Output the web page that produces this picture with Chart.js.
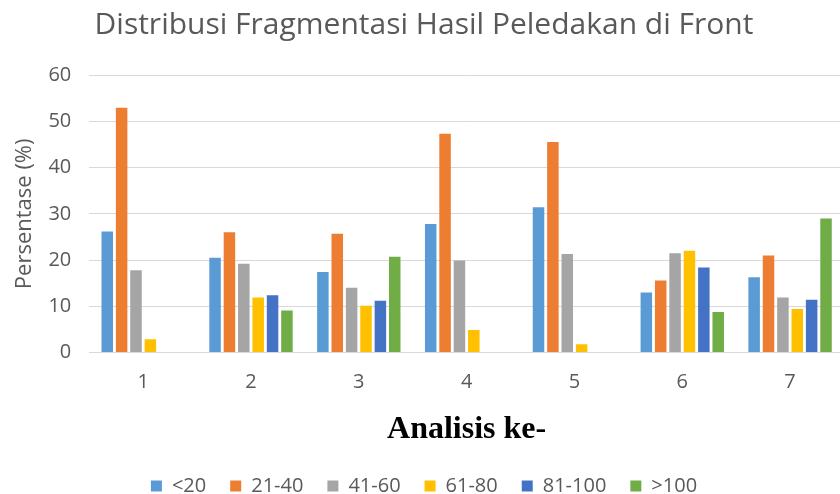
<!DOCTYPE html>
<html lang="id">
  <head>
    <meta charset="UTF-8" />
    <title>Distribusi Fragmentasi Hasil Peledakan di Front</title>
    <script src="https://cdn.jsdelivr.net/npm/chart.js@4.4.0/dist/chart.umd.min.js"></script>
    <style>
      html,
      body {
        margin: 0;
        padding: 0;
        background: #fff;
        overflow: hidden;
      }
      .container {
        width: 844px;
        height: 494px;
      }
    </style>
  </head>
  <body>
    <div class="container">
      <canvas id="fragChart" width="844" height="494"></canvas>
    </div>

    <script>
      // data
      const analisis = ['1', '2', '3', '4', '5', '6', '7'];
      const kurang20 = [26.2, 20.5, 17.4, 27.8, 31.4, 13.0, 16.3];
      const r21_40 = [52.9, 26.0, 25.7, 47.3, 45.5, 15.6, 21.0];
      const r41_60 = [17.8, 19.2, 14.0, 19.9, 21.3, 21.5, 11.9];
      const r61_80 = [2.9, 11.9, 10.1, 4.9, 1.8, 22.0, 9.4];
      const r81_100 = [0, 12.4, 11.2, 0, 0, 18.4, 11.4];
      const lebih100 = [0, 9.1, 20.7, 0, 0, 8.8, 29.0];
      const yTicks = [0, 10, 20, 30, 40, 50, 60];

      const grey = '#595959';

      function series(label, data, color) {
        return {
          label: label,
          data: data,
          backgroundColor: color,
          borderWidth: 0,
          barPercentage: 0.8,
          categoryPercentage: 0.8,
        };
      }

      let ctx = document.getElementById('fragChart').getContext('2d');
      let chart = new Chart(ctx, {
        type: 'bar',
        data: {
          labels: analisis,
          datasets: [
            series('<20', kurang20, '#5B9BD5'),
            series('21-40', r21_40, '#ED7D31'),
            series('41-60', r41_60, '#A5A5A5'),
            series('61-80', r61_80, '#FFC000'),
            series('81-100', r81_100, '#4472C4'),
            series('>100', lebih100, '#70AD47'),
          ],
        },
        options: {
          responsive: false,
          animation: false,
          layout: { padding: { left: 4, right: 0, top: 6, bottom: -12 } },
          plugins: {
            title: {
              display: true,
              text: 'Distribusi Fragmentasi Hasil Peledakan di Front',
              color: grey,
              font: { family: 'Open Sans', size: 30, weight: 'normal' },
              padding: { top: 1, bottom: 32 },
            },
            legend: {
              position: 'bottom',
              labels: {
                color: grey,
                font: { family: 'Open Sans', size: 20 },
                boxWidth: 11,
                boxHeight: 11,
                padding: 24,
              },
            },
            tooltip: { enabled: false },
          },
          scales: {
            x: {
              grid: { display: false, drawTicks: false },
              border: { display: true, color: '#D9D9D9', width: 1 },
              ticks: {
                color: grey,
                font: { family: 'Open Sans', size: 20 },
                padding: 18,
              },
              title: {
                display: true,
                text: 'Analisis ke-',
                color: '#000',
                font: { family: 'Liberation Serif', size: 32, weight: 'bold' },
                padding: { top: -2, bottom: 3 },
              },
            },
            y: {
              min: 0,
              max: 60,
              afterBuildTicks: function (axis) {
                axis.ticks = yTicks.map((v) => ({ value: v }));
              },
              grid: { color: '#D9D9D9', drawTicks: false },
              border: { display: false },
              ticks: {
                color: grey,
                font: { family: 'Open Sans', size: 20 },
                padding: 18,
              },
              title: {
                display: true,
                text: 'Persentase (%)',
                color: grey,
                font: { family: 'Open Sans', size: 22 },
                padding: { top: 8, bottom: -8 },
              },
            },
          },
        },
      });
    </script>
  </body>
</html>
